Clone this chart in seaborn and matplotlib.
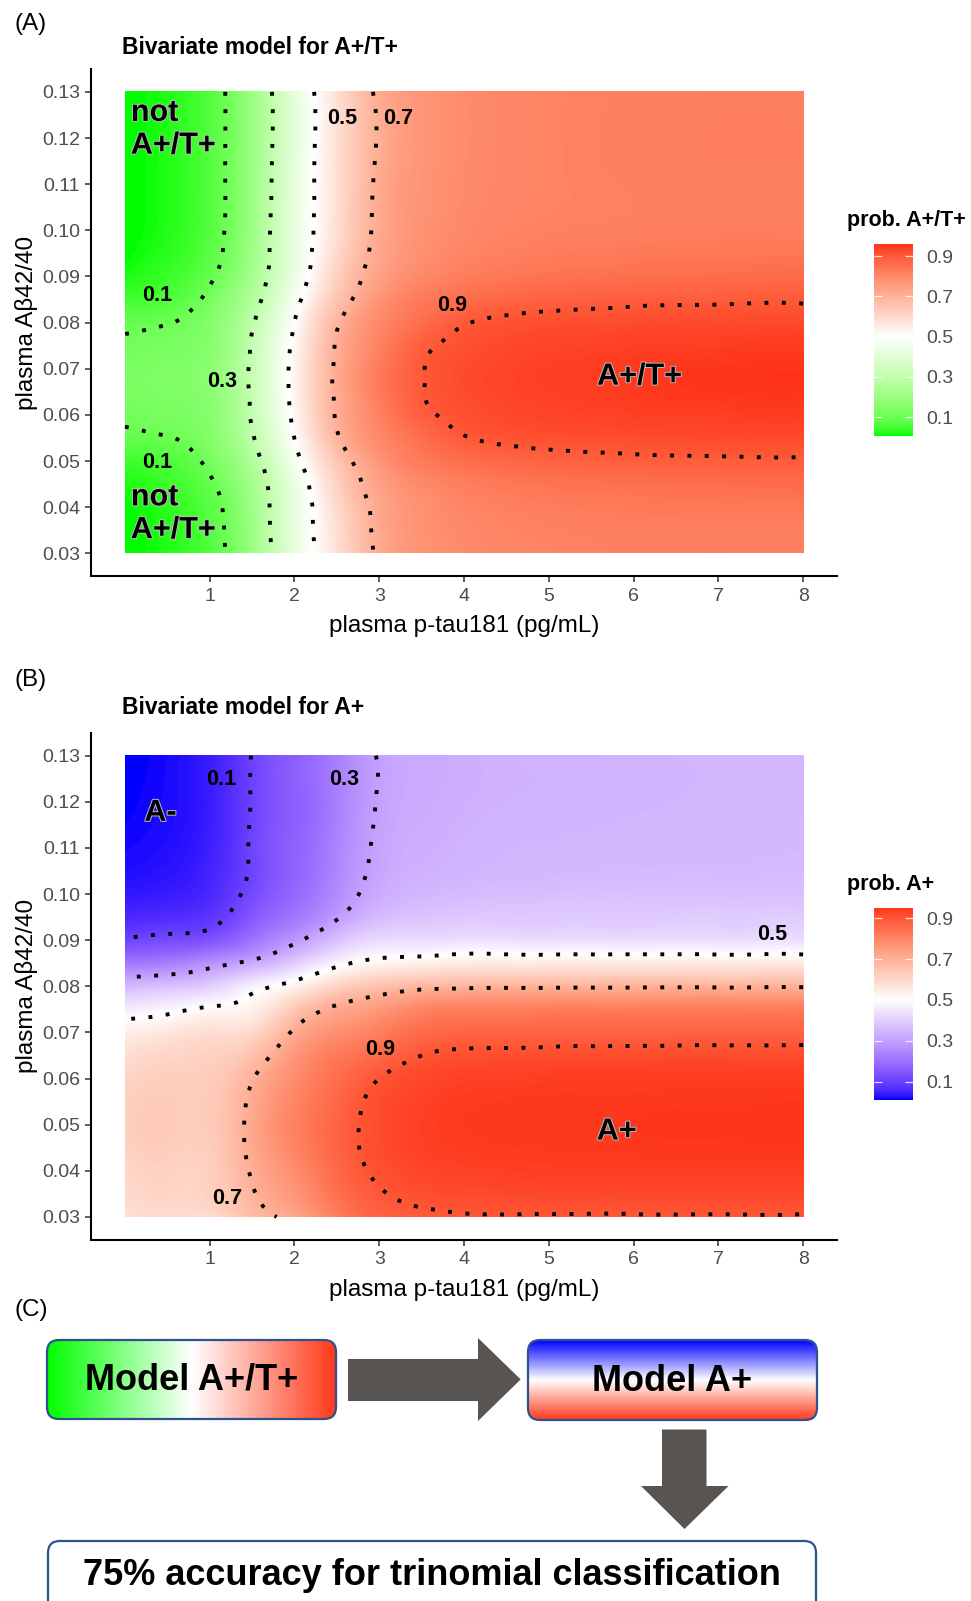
import numpy as np
import matplotlib
matplotlib.use("Agg")
import matplotlib.pyplot as plt
import seaborn as sns
from matplotlib.tri import Triangulation, CubicTriInterpolator
from matplotlib.colors import ListedColormap, Normalize
from matplotlib.patches import FancyBboxPatch, Polygon
import matplotlib.patheffects as pe

sns.set_theme(style="white")
plt.rcParams["font.family"] = ["Liberation Sans", "DejaVu Sans"]
plt.rcParams["lines.scale_dashes"] = False

# ---------------- data ----------------
# Panel A: probability of A+/T+ on a grid of p-tau181 (columns) x Abeta42/40 (rows)
ptau_A = [0, 0.5, 1, 1.5, 2, 2.5, 3, 3.5, 4, 4.5, 5, 6, 7, 8]
abeta_A = [0.030, 0.037, 0.043, 0.050, 0.056, 0.062, 0.0676, 0.073, 0.079,
           0.085, 0.092, 0.098, 0.110, 0.130]
prob_A = [
    [0.004, 0.016, 0.063, 0.201, 0.416, 0.582, 0.715, 0.769, 0.791, 0.802, 0.808, 0.815, 0.818, 0.818],
    [0.005, 0.018, 0.066, 0.209, 0.423, 0.589, 0.721, 0.776, 0.799, 0.810, 0.816, 0.822, 0.825, 0.825],
    [0.009, 0.028, 0.079, 0.219, 0.426, 0.611, 0.731, 0.786, 0.813, 0.826, 0.835, 0.844, 0.849, 0.852],
    [0.039, 0.057, 0.119, 0.257, 0.468, 0.650, 0.769, 0.829, 0.858, 0.873, 0.881, 0.889, 0.892, 0.894],
    [0.091, 0.104, 0.148, 0.295, 0.505, 0.696, 0.802, 0.864, 0.902, 0.915, 0.921, 0.927, 0.930, 0.931],
    [0.116, 0.127, 0.157, 0.312, 0.525, 0.709, 0.821, 0.894, 0.918, 0.931, 0.938, 0.945, 0.949, 0.950],
    [0.125, 0.136, 0.168, 0.319, 0.530, 0.717, 0.832, 0.897, 0.924, 0.936, 0.943, 0.950, 0.956, 0.958],
    [0.116, 0.127, 0.157, 0.312, 0.525, 0.709, 0.821, 0.894, 0.918, 0.931, 0.938, 0.945, 0.949, 0.950],
    [0.091, 0.104, 0.148, 0.295, 0.505, 0.696, 0.802, 0.864, 0.902, 0.915, 0.921, 0.927, 0.930, 0.931],
    [0.039, 0.057, 0.119, 0.257, 0.468, 0.650, 0.769, 0.829, 0.858, 0.873, 0.881, 0.889, 0.892, 0.894],
    [0.009, 0.028, 0.079, 0.219, 0.426, 0.611, 0.731, 0.786, 0.813, 0.826, 0.835, 0.844, 0.849, 0.852],
    [0.005, 0.018, 0.066, 0.209, 0.423, 0.589, 0.721, 0.776, 0.799, 0.810, 0.816, 0.822, 0.825, 0.825],
    [0.004, 0.016, 0.063, 0.201, 0.416, 0.582, 0.715, 0.769, 0.791, 0.802, 0.808, 0.815, 0.818, 0.818],
    [0.004, 0.016, 0.063, 0.201, 0.416, 0.582, 0.715, 0.769, 0.791, 0.802, 0.808, 0.815, 0.818, 0.818],
]

# Panel B: probability of A+
ptau_B = [0, 0.5, 1, 1.5, 2, 2.5, 3, 3.5, 4, 5, 6, 7, 8]
abeta_B = [0.030, 0.040, 0.050, 0.060, 0.065, 0.070, 0.075, 0.080, 0.085,
           0.090, 0.095, 0.100, 0.110, 0.120, 0.130]
prob_B = [
    [0.574, 0.589, 0.594, 0.668, 0.725, 0.818, 0.875, 0.889, 0.896, 0.896, 0.896, 0.896, 0.896],
    [0.603, 0.615, 0.622, 0.707, 0.786, 0.864, 0.909, 0.928, 0.934, 0.938, 0.939, 0.940, 0.940],
    [0.622, 0.634, 0.634, 0.721, 0.810, 0.873, 0.918, 0.937, 0.944, 0.947, 0.948, 0.949, 0.950],
    [0.611, 0.622, 0.629, 0.696, 0.786, 0.852, 0.900, 0.924, 0.934, 0.938, 0.939, 0.940, 0.940],
    [0.587, 0.603, 0.615, 0.657, 0.759, 0.825, 0.864, 0.900, 0.911, 0.915, 0.917, 0.918, 0.918],
    [0.542, 0.562, 0.582, 0.599, 0.711, 0.777, 0.818, 0.858, 0.870, 0.873, 0.874, 0.875, 0.875],
    [0.463, 0.480, 0.512, 0.537, 0.639, 0.715, 0.756, 0.802, 0.813, 0.818, 0.819, 0.821, 0.821],
    [0.350, 0.371, 0.399, 0.470, 0.532, 0.611, 0.655, 0.679, 0.686, 0.690, 0.692, 0.692, 0.694],
    [0.214, 0.228, 0.269, 0.321, 0.397, 0.480, 0.525, 0.537, 0.550, 0.550, 0.550, 0.550, 0.550],
    [0.106, 0.119, 0.136, 0.206, 0.285, 0.373, 0.426, 0.430, 0.438, 0.433, 0.433, 0.433, 0.433],
    [0.055, 0.063, 0.079, 0.148, 0.214, 0.293, 0.359, 0.378, 0.387, 0.389, 0.389, 0.392, 0.392],
    [0.032, 0.037, 0.057, 0.119, 0.182, 0.259, 0.327, 0.350, 0.359, 0.366, 0.368, 0.371, 0.371],
    [0.017, 0.023, 0.043, 0.107, 0.168, 0.241, 0.310, 0.332, 0.341, 0.348, 0.350, 0.352, 0.354],
    [0.012, 0.019, 0.039, 0.103, 0.162, 0.231, 0.304, 0.325, 0.334, 0.341, 0.345, 0.348, 0.350],
    [0.010, 0.018, 0.039, 0.102, 0.161, 0.231, 0.304, 0.323, 0.332, 0.341, 0.345, 0.348, 0.350],
]

contour_levels = [0.1, 0.3, 0.5, 0.7, 0.9]
x_ticks = [1, 2, 3, 4, 5, 6, 7, 8]
y_ticks = [0.03, 0.04, 0.05, 0.06, 0.07, 0.08, 0.09, 0.10, 0.11, 0.12, 0.13]
cbar_ticks = [0.1, 0.3, 0.5, 0.7, 0.9]

# contour-label annotations (text, x, y)
labels_A = [("0.1", 0.386, 0.0859), ("0.1", 0.386, 0.0497), ("0.3", 1.145, 0.0673),
            ("0.5", 2.561, 0.1242), ("0.7", 3.218, 0.1242), ("0.9", 3.86, 0.0838)]
labels_B = [("0.1", 1.14, 0.1249), ("0.3", 2.584, 0.1249), ("0.5", 7.64, 0.0913),
            ("0.7", 1.207, 0.0339), ("0.9", 3.016, 0.0663)]

# ---------------- helpers ----------------
def srgb_to_lab(rgb):
    rgb = np.asarray(rgb, float)
    c = np.where(rgb <= 0.04045, rgb / 12.92, ((rgb + 0.055) / 1.055) ** 2.4)
    M = np.array([[0.4124564, 0.3575761, 0.1804375],
                  [0.2126729, 0.7151522, 0.0721750],
                  [0.0193339, 0.1191920, 0.9503041]])
    xyz = c @ M.T / np.array([0.95047, 1.0, 1.08883])
    d = 6 / 29
    f = np.where(xyz > d ** 3, np.cbrt(xyz), xyz / (3 * d * d) + 4 / 29)
    return np.stack([116 * f[..., 1] - 16, 500 * (f[..., 0] - f[..., 1]),
                     200 * (f[..., 1] - f[..., 2])], axis=-1)


def lab_to_srgb(lab):
    lab = np.asarray(lab, float)
    fy = (lab[..., 0] + 16) / 116
    fx = fy + lab[..., 1] / 500
    fz = fy - lab[..., 2] / 200
    d = 6 / 29
    f = np.stack([fx, fy, fz], axis=-1)
    xyz = np.where(f > d, f ** 3, 3 * d * d * (f - 4 / 29)) * np.array([0.95047, 1.0, 1.08883])
    Minv = np.array([[3.2404542, -1.5371385, -0.4985314],
                     [-0.9692660, 1.8760108, 0.0415560],
                     [0.0556434, -0.2040259, 1.0572252]])
    c = np.clip(xyz @ Minv.T, 0, 1)
    return np.where(c <= 0.0031308, 12.92 * c, 1.055 * c ** (1 / 2.4) - 0.055)


def diverging_lab_cmap(low, high, n=256):
    lo = srgb_to_lab(matplotlib.colors.to_rgb(low))
    wh = srgb_to_lab((1, 1, 1))
    hi = srgb_to_lab(matplotlib.colors.to_rgb(high))
    t = np.linspace(0, 1, n)[:, None]
    lab = np.where(t < 0.5, lo + (wh - lo) * (t / 0.5), wh + (hi - wh) * ((t - 0.5) / 0.5))
    return ListedColormap(np.clip(lab_to_srgb(lab), 0, 1))


def smooth_surface(xs, ys, probs, nx=500, ny=420):
    xs = np.asarray(xs, float)
    ys = np.asarray(ys, float)
    P = np.asarray(probs, float)
    X, Y = np.meshgrid(xs, ys)
    u = (X - xs.min()) / (xs.max() - xs.min())
    v = (Y - ys.min()) / (ys.max() - ys.min())
    tri = Triangulation(u.ravel(), v.ravel())
    logit = np.log(P / (1 - P)).ravel()
    interp = CubicTriInterpolator(tri, logit, kind="min_E")
    uf = np.linspace(0, 1, nx)
    vf = np.linspace(0, 1, ny)
    UF, VF = np.meshgrid(np.clip(uf, 1e-9, 1 - 1e-9), np.clip(vf, 1e-9, 1 - 1e-9))
    Lf = np.ma.filled(interp(UF, VF), np.nan)
    Pf = 1 / (1 + np.exp(-Lf))
    xf = xs.min() + uf * (xs.max() - xs.min())
    yf = ys.min() + vf * (ys.max() - ys.min())
    return xf, yf, Pf


W, H = 971, 1601
fig = plt.figure(figsize=(W / 100, H / 100), dpi=100)
fig.patch.set_facecolor("white")


def px_axes(left, top, right, bottom):
    return fig.add_axes([left / W, 1 - bottom / H, (right - left) / W, (bottom - top) / H])


halo = [pe.withStroke(linewidth=1.4, foreground="#BDBDBD")]
dotted = (0, (2.8, 9.7))


def draw_panel(ax, cax, xs, ys, probs, cmap, labels, cbar_title, title_y, title, letter,
               letter_y, cbar_title_y):
    P = np.asarray(probs)
    pmin, pmax = P.min(), P.max()
    D = max(0.5 - pmin, pmax - 0.5)
    norm = Normalize(vmin=0.5 - D, vmax=0.5 + D)
    xf, yf, Pf = smooth_surface(xs, ys, probs)
    ax.imshow(Pf, extent=(min(xs), max(xs), min(ys), max(ys)), origin="lower",
              aspect="auto", cmap=cmap, norm=norm, interpolation="bilinear", zorder=1)
    XF, YF = np.meshgrid(xf, yf)
    ax.contour(XF, YF, Pf, levels=contour_levels, colors="black", linewidths=2.8,
               linestyles=[dotted], zorder=2)
    ax.set_xlim(-0.4, 8.4)
    ax.set_ylim(0.025, 0.135)
    for s in ["top", "right"]:
        ax.spines[s].set_visible(False)
    for s in ["left", "bottom"]:
        ax.spines[s].set_color("black")
        ax.spines[s].set_linewidth(1.5)
    ax.set_xticks(x_ticks)
    ax.set_xticklabels([str(v) for v in x_ticks])
    ax.set_yticks(y_ticks)
    ax.set_yticklabels([f"{v:.2f}" for v in y_ticks])
    ax.tick_params(axis="both", direction="out", length=4, width=1.1, color="#333333",
                   labelsize=14, labelcolor="#4D4D4D", pad=4)
    ax.tick_params(axis="both", which="both", bottom=True, left=True)
    ax.grid(False)
    ax.set_xlabel("plasma p-tau181 (pg/mL)", fontsize=17.5, color="black")
    ax.xaxis.set_label_coords(0.5, -0.098)
    ax.xaxis.label.set_verticalalignment("center")
    ax.set_ylabel("plasma A\u03b242/40", fontsize=17.5, color="black")
    ax.yaxis.set_label_coords(-0.087, 0.5)
    ax.yaxis.label.set_verticalalignment("center")
    for txt, x, y in labels:
        ax.text(x, y, txt, fontsize=15.5, fontweight="bold", color="black",
                ha="center", va="center", zorder=4)

    # colour bar
    grad = np.linspace(pmin, pmax, 256)[:, None]
    cax.imshow(grad, extent=(0, 1, pmin, pmax), origin="lower", aspect="auto",
               cmap=cmap, norm=norm)
    cax.set_xlim(0, 1)
    cax.set_ylim(pmin, pmax)
    for s in cax.spines.values():
        s.set_visible(False)
    cax.set_xticks([])
    cax.yaxis.tick_right()
    cax.set_yticks(cbar_ticks)
    cax.set_yticklabels([f"{v:.1f}" for v in cbar_ticks])
    cax.tick_params(axis="y", length=0, pad=10, labelsize=14, labelcolor="#4D4D4D")
    cax.hlines(cbar_ticks, 0, 0.2, color="white", lw=0.9, alpha=0.8)
    cax.hlines(cbar_ticks, 0.8, 1, color="white", lw=0.9, alpha=0.8)
    fig.text(847 / W, 1 - cbar_title_y / H, cbar_title, fontsize=15.5, fontweight="bold",
             ha="left", va="center", color="black")

    fig.text(121.7 / W, 1 - title_y / H, title, fontsize=16.5, fontweight="bold",
             ha="left", va="center", color="black")
    fig.text(15 / W, 1 - letter_y / H, letter, fontsize=17.5, ha="left", va="center",
             color="black")


cmap_A = diverging_lab_cmap("#00FF00", "#FF0000")
cmap_B = diverging_lab_cmap("#0000FF", "#FF0000")

axA = px_axes(91, 68.8, 837, 576.5)
caxA = px_axes(874, 244.5, 912.5, 436.5)
draw_panel(axA, caxA, ptau_A, abeta_A, prob_A, cmap_A, labels_A, "prob. A+/T+",
           47.7, "Bivariate model for A+/T+", "(A)", 24, 220)
axA.text(0.07, 0.1219, "not\nA+/T+", fontsize=22, fontweight="bold", ha="left",
         va="center", linespacing=1.12, color="black", path_effects=halo, zorder=5)
axA.text(0.07, 0.0386, "not\nA+/T+", fontsize=22, fontweight="bold", ha="left",
         va="center", linespacing=1.12, color="black", path_effects=halo, zorder=5)
axA.text(6.07, 0.0683, "A+/T+", fontsize=22, fontweight="bold", ha="center",
         va="center", color="black", path_effects=halo, zorder=5)

axB = px_axes(91, 732.6, 837, 1240)
caxB = px_axes(874, 908, 912.5, 1100)
draw_panel(axB, caxB, ptau_B, abeta_B, prob_B, cmap_B, labels_B, "prob. A+",
           707, "Bivariate model for A+", "(B)", 680, 884)
axB.text(0.42, 0.1176, "A-", fontsize=22, fontweight="bold", ha="center",
         va="center", color="black", path_effects=halo, zorder=5)
axB.text(5.80, 0.0485, "A+", fontsize=22, fontweight="bold", ha="center",
         va="center", color="black", path_effects=halo, zorder=5)

# ---------------- panel C : workflow diagram ----------------
axC = fig.add_axes([0, 0, 1, 1])
axC.set_axis_off()
axC.patch.set_alpha(0)

fig.text(15 / W, 1 - 1310 / H, "(C)", fontsize=17.5, ha="left", va="center", color="black")

edge = "#2F528F"
box1 = FancyBboxPatch((47, 1340), 289, 79, boxstyle="round,pad=0,rounding_size=12",
                      facecolor="none", edgecolor=edge, linewidth=1.6, zorder=3)
axC.add_patch(box1)
g1 = np.array(sns.blend_palette(["#00FF00", "#FFFFFF", "#FF3A1A"], n_colors=256))[None, :, :]
im1 = axC.imshow(g1, extent=(47, 336, 1419, 1340), aspect="auto", zorder=2,
                 interpolation="bilinear")
im1.set_clip_path(box1)
axC.text(191.5, 1380, "Model A+/T+", fontsize=26, fontweight="bold", ha="center",
         va="center", color="black", zorder=4)

box2 = FancyBboxPatch((528, 1340), 289, 80, boxstyle="round,pad=0,rounding_size=12",
                      facecolor="none", edgecolor=edge, linewidth=1.6, zorder=3)
axC.add_patch(box2)
g2 = np.array(sns.blend_palette(["#0000FF", "#FFFFFF", "#FF3A1A"], n_colors=256))[:, None, :]
im2 = axC.imshow(g2, extent=(528, 817, 1420, 1340), aspect="auto", zorder=2,
                 interpolation="bilinear", origin="upper")
im2.set_clip_path(box2)
axC.text(672.5, 1381, "Model A+", fontsize=26, fontweight="bold", ha="center",
         va="center", color="black", zorder=4)

arrow_col = "#575451"
axC.add_patch(Polygon([(348, 1359), (478, 1359), (478, 1338), (520.7, 1379.4),
                       (478, 1421), (478, 1401), (348, 1401)], closed=True,
                      facecolor=arrow_col, edgecolor="none", zorder=2))
axC.add_patch(Polygon([(662, 1429.5), (706.5, 1429.5), (706.5, 1486), (728.5, 1486),
                       (684.5, 1529), (641, 1486), (662, 1486)], closed=True,
                      facecolor=arrow_col, edgecolor="none", zorder=2))

box3 = FancyBboxPatch((48, 1541), 768, 100, boxstyle="round,pad=0,rounding_size=12",
                      facecolor="white", edgecolor=edge, linewidth=1.6, zorder=3)
axC.add_patch(box3)
axC.text(432, 1575, "75% accuracy for trinomial classification", fontsize=26,
         fontweight="bold", ha="center", va="center", color="black", zorder=4)

axC.set_xlim(0, W)
axC.set_ylim(H, 0)

fig.savefig("out.png", dpi=100, facecolor="white")
